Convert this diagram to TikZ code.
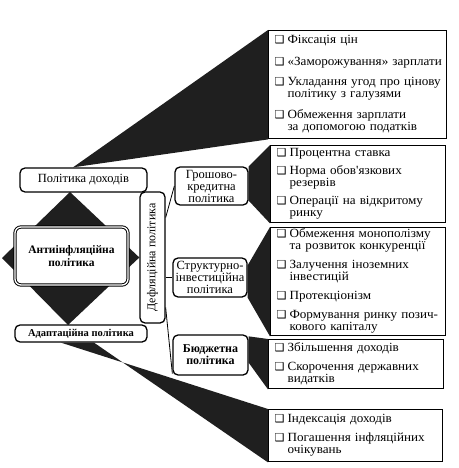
\documentclass[tikz,border=0pt]{standalone}
\usepackage{fontspec}
\setmainfont{Liberation Serif}
\newfontfamily\listfont[FakeStretch=1.05]{Liberation Serif}
\newfontfamily\symfont{DejaVu Sans}
\newcommand{\chk}{{\symfont\fontsize{11}{11}\selectfont ❑}}
\usetikzlibrary{backgrounds}

\begin{document}
\begin{tikzpicture}[x=1pt, y=-1pt,
    every node/.style={inner sep=0pt, font=\fontsize{12.5}{12}\selectfont},
    listbox/.style={draw, line width=1.4pt, fill=white, anchor=north west, align=left,
        inner xsep=6pt, font=\listfont\fontsize{12.5}{12}\selectfont},
    roundbox/.style={draw, line width=1.3pt, rounded corners=5pt, fill=white, align=center},
    wedge/.style={fill=black!88},
    link/.style={line width=0.8pt}]
    \useasboundingbox (0,0) rectangle (458,468);

    % ліва частина
    \node[roundbox, minimum width=127pt, minimum height=24pt] (income) at (83.5,180) {Політика доходів};
    \node[roundbox, double, double distance=1.3pt, line width=1pt, rounded corners=6pt,
          minimum width=113pt, minimum height=58pt,
          font=\fontsize{11.5}{13}\selectfont\bfseries] (anti) at (71.5,256) {Антиінфляційна\\політика};
    \node[roundbox, minimum width=132pt, minimum height=17pt,
          font=\fontsize{10.5}{11}\selectfont\bfseries] (adapt) at (81,333.5) {Адаптаційна політика};
    \node[roundbox, rotate=90, minimum width=131pt, minimum height=25pt,
          font=\fontsize{12}{12}\selectfont] (defl) at (152.5,257.5) {Дефляційна політика};

    % середні блоки
    \node[roundbox, minimum width=73pt, minimum height=38pt] (money) at (211.5,186) {Грошово-\\кредитна\\політика};
    \node[roundbox, minimum width=74pt, minimum height=39pt] (struct) at (210,277.5) {Структурно-\\інвестиційна\\політика};
    \node[roundbox, minimum width=75pt, minimum height=40pt,
          font=\fontsize{12}{12}\selectfont\bfseries] (budget) at (210.5,355) {Бюджетна\\політика};

    % списки заходів
    \node[listbox, minimum width=178pt, minimum height=108pt, text width=166pt] (list1) at (268,30) {%
        \begin{tabular}{@{}l@{\hspace{3pt}}l@{}}
        \chk & Фіксація цін\\[10pt]
        \chk & «Заморожування» зарплати\\[8pt]
        \chk & Укладання угод про цінову\\
             & політику з галузями\\[8pt]
        \chk & Обмеження зарплати\\
             & за допомогою податків
        \end{tabular}};
    \node[listbox, minimum width=175pt, minimum height=77pt, text width=163pt] (list2) at (270,145) {%
        \begin{tabular}{@{}l@{\hspace{3pt}}l@{}}
        \chk & Процентна ставка\\[6pt]
        \chk & Норма обов'язкових\\
             & резервів\\[6pt]
        \chk & Операції на відкритому\\
             & ринку
        \end{tabular}};
    \node[listbox, minimum width=175pt, minimum height=108pt, text width=163pt] (list3) at (270,227) {%
        \begin{tabular}{@{}l@{\hspace{3pt}}l@{}}
        \chk & Обмеження монополізму\\
             & та розвиток конкуренції\\[7pt]
        \chk & Залучення іноземних\\
             & інвестицій\\[7pt]
        \chk & Протекціонізм\\[7pt]
        \chk & Формування ринку позич-\\
             & кового капіталу
        \end{tabular}};
    \node[listbox, minimum width=175pt, minimum height=49pt, text width=163pt] (list4) at (268,339) {%
        \begin{tabular}{@{}l@{\hspace{3pt}}l@{}}
        \chk & Збільшення доходів\\[7pt]
        \chk & Скорочення державних\\
             & видатків
        \end{tabular}};
    \node[listbox, minimum width=174pt, minimum height=52pt, text width=162pt] (list5) at (268,409) {%
        \begin{tabular}{@{}l@{\hspace{3pt}}l@{}}
        \chk & Індексація доходів\\[7pt]
        \chk & Погашення інфляційних\\
             & очікувань
        \end{tabular}};

    % зв'язки
    \draw[link] ([yshift=40pt]defl.south) -- (money.west);
    \draw[link] (defl.south |- struct.west) -- (struct.west);
    \draw[link] ([yshift=-50pt]defl.south) -- ([yshift=2pt]budget.south west);

    % клини та ромб
    \begin{scope}[on background layer]
        \fill[wedge] (70,192) -- (defl.north) -- (68,325) -- (2,258) -- cycle;
        \fill[wedge] ([xshift=-10.5pt]income.north) -- (list1.north west) -- (list1.south west) -- cycle;
        \fill[wedge] (money.north east) -- (list2.north west) -- (list2.south west) -- ([yshift=5pt]money.south east) -- cycle;
        \fill[wedge] ([yshift=-8pt]struct.north east) -- (list3.north west) -- (list3.south west) -- (struct.south east) -- cycle;
        \fill[wedge] ([yshift=-2pt]budget.north east) -- (list4.north west) -- (list4.south west) -- ([yshift=13pt]budget.south east) -- cycle;
        \fill[wedge] ([xshift=-20pt]adapt.south) -- ([xshift=13pt]adapt.south) -- (list5.south west) -- (list5.north west) -- cycle;
    \end{scope}
\end{tikzpicture}
\end{document}
